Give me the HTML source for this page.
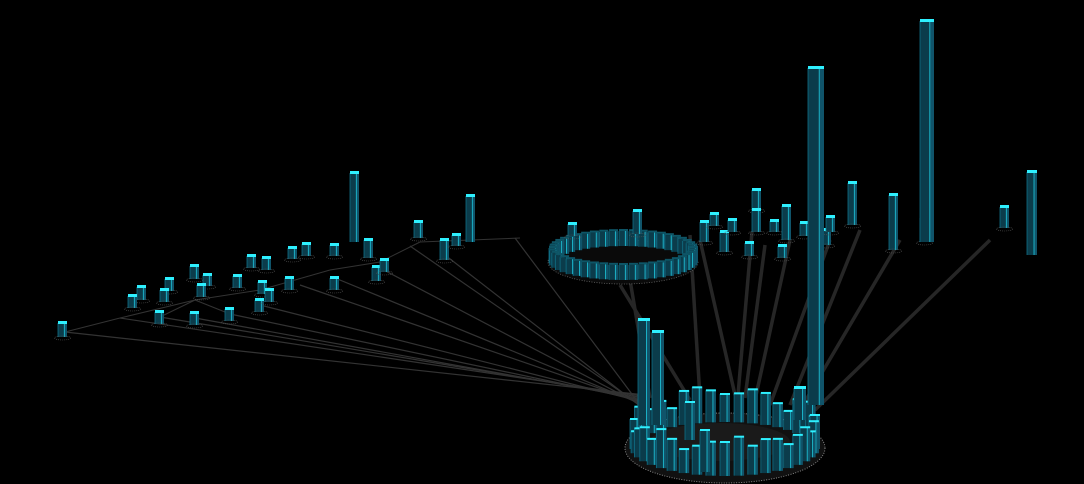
<!DOCTYPE html>
<html><head><meta charset="utf-8"><style>
html,body{margin:0;padding:0;background:#000;}
svg{display:block}
</style></head><body>
<svg id="s" width="1084" height="484" viewBox="0 0 1084 484" xmlns="http://www.w3.org/2000/svg">
<rect width="1084" height="484" fill="#000"/>
<g id="lines"></g>
<g id="bars"></g>
</svg>
<script>
var NS="http://www.w3.org/2000/svg";
var L=document.getElementById('lines'),B=document.getElementById('bars');
function el(p,t,a){var e=document.createElementNS(NS,t);for(var k in a)e.setAttribute(k,a[k]);p.appendChild(e);return e;}
var thin=[[65,332],[120,318],[160,317],[195,318],[230,314],[260,305],[300,285],[335,278],[380,268],[410,246],[445,255],[515,238]];
thin.forEach(function(p,i){el(L,'line',{x1:p[0],y1:p[1],x2:645,y2:395+i*1.5,stroke:'#333',"stroke-width":1.2});});
var thick=[[630,280,650,398],[690,235,700,398],[700,240,735,395],[752,232,738,395],[790,240,755,400],[765,245,745,398],[830,240,770,405],[860,230,790,405],[900,240,800,410],[990,240,815,410],[620,285,690,400]];
thick.forEach(function(t){el(L,'line',{x1:t[0],y1:t[1],x2:t[2],y2:t[3],stroke:'#262626',"stroke-width":3.5});});
var edges=[[65,332,120,318],[120,318,195,300],[195,300,260,290],[260,290,330,270],[330,270,380,262],[380,262,420,242],[420,242,520,238],[195,300,230,314],[195,300,160,317]];
edges.forEach(function(t){el(L,'line',{x1:t[0],y1:t[1],x2:t[2],y2:t[3],stroke:'#333',"stroke-width":1});});
function bar(x,top,bot,w,cap){
  w=w||9;var d=Math.max(2,w*0.3);if(cap===undefined)cap=3;
  el(B,'rect',{x:x,y:top,width:w,height:bot-top,fill:'#0b3c4b'});
  el(B,'rect',{x:x+w-d,y:top,width:d,height:bot-top,fill:'#10546a'});
  el(B,'line',{x1:x+w-d,y1:top,x2:x+w-d,y2:bot,stroke:'#1ec8dc',"stroke-width":0.8});
  el(B,'line',{x1:x,y1:top,x2:x,y2:bot,stroke:'#0f6f86',"stroke-width":0.8});
  if(cap>0)el(B,'rect',{x:x,y:top-cap+1,width:w,height:cap,fill:'#2ef0ff'});
  else el(B,'rect',{x:x,y:top-2,width:w,height:2,fill:'#0e5566'});
}
function base(x,bot,w){el(B,'ellipse',{cx:x+w/2,cy:bot+1,rx:w*0.9,ry:2,fill:'none',stroke:'#555',"stroke-width":0.6,"stroke-dasharray":"1 1"});}
var cx=623,cy=258,rx=70,ry=17;
el(B,'ellipse',{cx:cx,cy:cy+4,rx:rx+5,ry:ry+5,fill:'#0a0a0a',stroke:'#666',"stroke-width":0.8,"stroke-dasharray":"1 1.5"});
var ring=[];
for(var i=0;i<44;i++){var a=i/44*Math.PI*2;ring.push([cx+rx*Math.cos(a),cy+ry*Math.sin(a),Math.sin(a)]);}
ring.sort(function(a,b){return a[2]-b[2];});
ring.forEach(function(p){bar(p[0]-4,p[1]-10,p[1]+5,9,0);});
var small=[[58,323,337],[137,287,300],[165,279,291],[190,266,279],[203,275,286],[247,256,268],[262,258,270],[288,248,259],[302,244,256],[330,245,256],[364,240,258],[128,296,308],[155,312,324],[190,313,325],[225,309,321],[255,300,312],[160,290,302],[197,285,297],[233,276,288],[258,282,294],[265,290,302],[285,278,290],[330,278,290],[372,267,281],[380,260,272],[414,222,238],[440,240,260],[452,235,246],[568,224,236],[633,211,234],[700,222,242],[710,214,226],[720,232,252],[728,220,232],[745,243,256],[752,190,210],[752,210,232],[770,221,232],[782,206,240],[778,246,258],[800,223,236],[822,230,245],[826,217,232],[848,183,225],[889,195,250],[920,218,242],[1000,207,228]];
small.forEach(function(s){bar(s[0],s[1],s[2],9);base(s[0],s[2],9);});
bar(350,173,242,9);bar(466,196,242,9);
bar(920,21,242,14);bar(1027,172,255,10);
cx=725;cy=445;rx=90;ry=27;
el(B,'ellipse',{cx:cx,cy:cy+3,rx:rx+10,ry:ry+8,fill:'#111',stroke:'#888',"stroke-width":1,"stroke-dasharray":"1 1.5"});
el(B,'ellipse',{cx:cx-5,cy:cy-3,rx:rx-20,ry:ry-8,fill:'#1a1a1a'});
var r2=[],hs=[30,25,20,28,35,22,30,25,18,26,20,30,22,20,25,15,30,32,28,24,25,30,28,20,15,30,20,35,25,30,28,22,30,26,20,28,30,25,35,30];
for(var i=0;i<40;i++){var a=Math.PI*0.55+i/40*Math.PI*2;r2.push([cx+rx*Math.cos(a),cy+ry*Math.sin(a),Math.sin(a),hs[i]]);}
r2.sort(function(a,b){return a[2]-b[2];});
r2.forEach(function(p){bar(p[0]-5,p[1]-p[3],p[1]+4,10,2);});
bar(638,320,425,12);bar(652,332,425,12);
bar(808,68,405,16);bar(794,388,420,12);
bar(685,402,440,10,2);bar(700,430,472,10,2);
</script>
</body></html>
